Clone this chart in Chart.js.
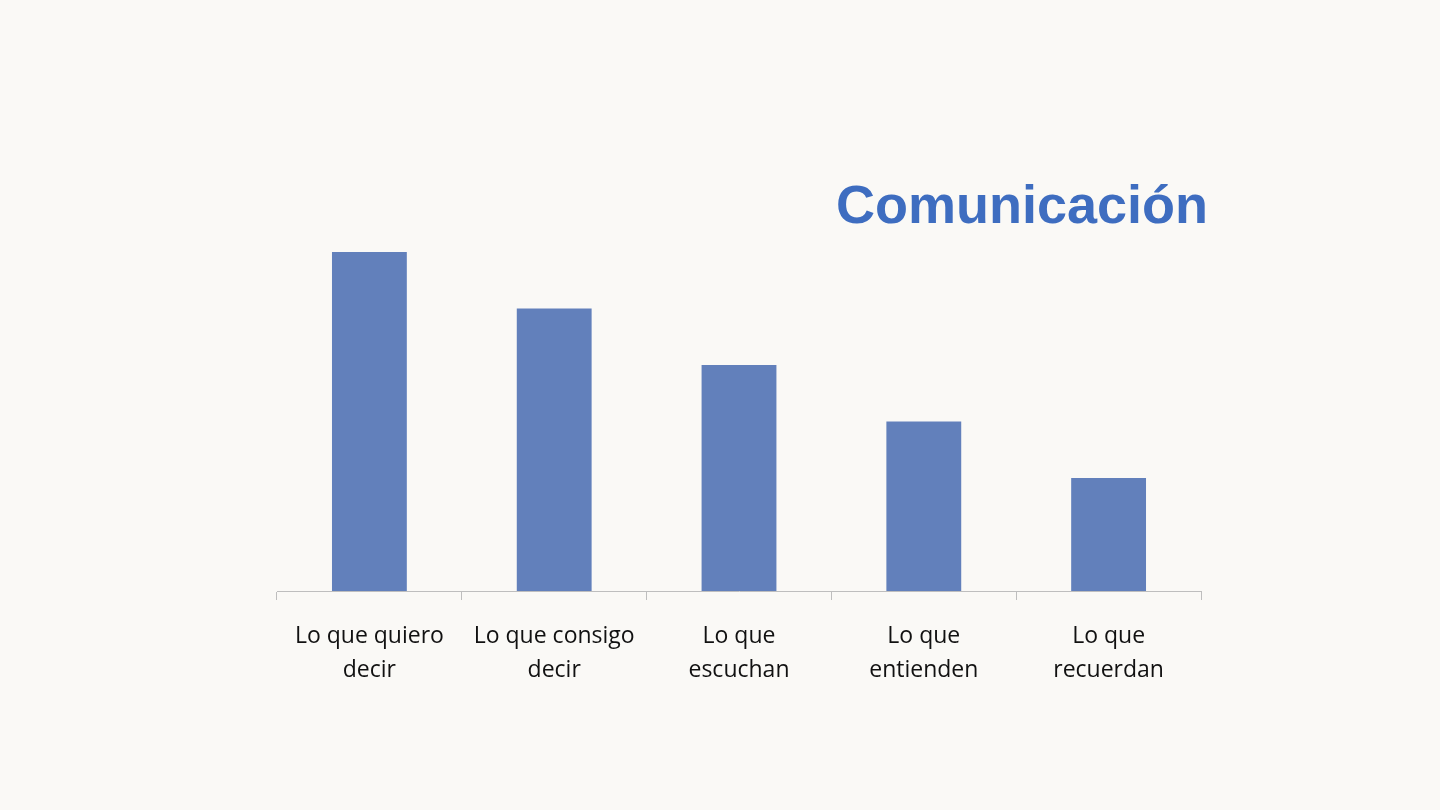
<!DOCTYPE html>
<html>
<head>
<meta charset="utf-8">
<script src="https://cdn.jsdelivr.net/npm/chart.js@4.4.0/dist/chart.umd.min.js"></script>
<style>
  html, body { margin: 0; padding: 0; background: #FAF9F6; }
  #wrap { position: relative; width: 1440px; height: 810px; }
  #title {
    position: absolute; right: 232px; top: 168px; margin: 0;
    font-family: "Liberation Sans", Arial, sans-serif; font-weight: bold;
    font-size: 54px; color: #3E6DC0; line-height: 72px;
  }
  canvas { position: absolute; left: 0; top: 0; }
</style>
</head>
<body>
<div id="wrap">
  <canvas id="chart" width="1440" height="810"></canvas>
  <h1 id="title">Comunicación</h1>
</div>
<script>
// categories and values
const categories = [
  ["Lo que quiero", "decir"],
  ["Lo que consigo", "decir"],
  ["Lo que", "escuchan"],
  ["Lo que", "entienden"],
  ["Lo que", "recuerdan"]
];
const values = [6, 5, 4, 3, 2];

const barColor = "#6280BB";
const axisGray = "#BEBEBE";

new Chart(document.getElementById("chart"), {
  type: 'bar',
  data: {
    labels: categories,
    datasets: [{
      data: values,
      backgroundColor: barColor,
      borderWidth: 0,
      categoryPercentage: 1,
      barPercentage: 0.405
    }]
  },
  options: {
    responsive: false,
    animation: false,
    layout: { padding: { left: 277, right: 239, top: 195.5, bottom: 0 } },
    plugins: { legend: { display: false }, tooltip: { enabled: false } },
    scales: {
      x: {
        grid: { drawOnChartArea: false, color: axisGray, tickLength: 9, offset: true },
        border: { color: axisGray, width: 1 },
        ticks: {
          color: "#111",
          padding: 19,
          maxRotation: 0,
          font: { family: "'Open Sans', 'Noto Sans', sans-serif", size: 23, lineHeight: 1.48 }
        },
        afterFit: function (scale) { scale.height = 219; }
      },
      y: {
        display: false,
        min: 0,
        max: 7
      }
    }
  }
});
</script>
</body>
</html>
